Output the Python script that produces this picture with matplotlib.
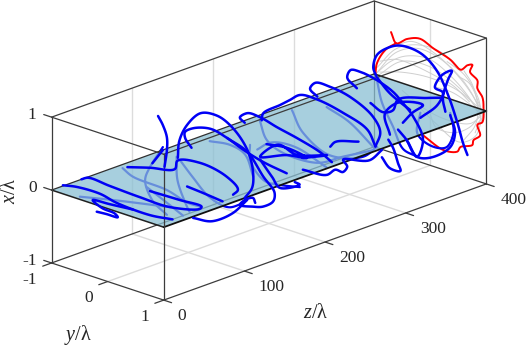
import numpy as np
import matplotlib
matplotlib.use("Agg")
import matplotlib.pyplot as plt
from mpl_toolkits.mplot3d.art3d import Poly3DCollection

plt.rcParams['font.family'] = ['Liberation Serif', 'DejaVu Sans']
plt.rcParams['mathtext.fontset'] = 'custom'
plt.rcParams['mathtext.rm'] = 'Liberation Serif'
plt.rcParams['mathtext.it'] = 'Liberation Serif:italic'

# trajectory pieces above the plane: z, x per piece, y is one value or a list
upper_z = [
    [56, 68, 82, 78, 63, 51, 72, 101],
    [14, 31, 60, 81, 122, 150],
    [37, 45, 72, 109, 147, 184, 186, 159, 122],
    [168, 188, 212],
    [94, 122, 153, 156, 184, 217, 231, 225],
    [132, 138, 143, 143, 140],
    [138, 125],
    [87, 89, 98, 114, 135, 155, 173, 180, 179, 170],
    [104, 96, 96, 106, 127, 148, 168, 193, 222],
    [148, 173, 193, 207, 205, 193, 180, 164, 170, 180, 183],
    [106, 130, 155, 173],
    [170, 164, 173, 189, 210, 235, 263, 278],
    [197, 222, 247, 222, 189, 210, 235, 272, 242],
    [191, 193, 214, 226, 238, 260, 292, 322, 332],
    [260, 251, 257, 276, 301, 329, 338, 332],
    [276, 282, 311],
    [189, 204, 214, 238, 232],
    [242, 272, 282, 292, 297, 292, 325, 340],
    [340, 350, 363, 360, 354, 348],
    [309, 297, 301, 313, 334, 354, 366, 379, 391, 384, 371, 360],
    [382, 378, 383, 399, 392, 391, 388, 388, 385, 385, 387],
    [383, 381, 363, 375],
    [350, 344, 359, 391, 378, 366],
    [305, 321, 333, 339, 375, 391],
    [346, 367, 374, 364, 373, 385, 380, 374, 377],
    [329, 342, 362, 383, 389, 383],
]
upper_x = [
    [-.52, -.60, -.70, -.63, -.50, -.34, -.48, -.67],
    [.01, -.08, -.29, -.50, -.83, -1.0],
    [0, -.01, -.23, -.53, -.82, -.99, -.97, -.77, -.50],
    [-.62, -.79, -1.0],
    [-.06, -.18, -.32, -.22, -.36, -.68, -.92, -.96],
    [.49, .34, .15, -.02, -.24],
    [0, -.13],
    [.35, .58, .75, .85, .74, .49, .12, -.19, -.43, -.53],
    [.42, .59, .67, .68, .59, .38, .14, -.13, -.40],
    [.38, .09, -.33, -.61, -.72, -.74, -.69, -.60, -.56, -.57, -.65],
    [-.55, -.69, -.68, -.57],
    [.50, .60, .62, .50, .28, .03, -.27, -.47],
    [.10, -.05, -.29, -.15, -.04, .04, -.20, -.35, -.27],
    [.45, .54, .57, .59, .61, .46, .15, -.20, -.47],
    [.50, .65, .70, .57, .33, -.05, -.31, -.47],
    [-.25, -.21, -.32],
    [-.08, -.38, -.57, -.62, -.56],
    [-.43, -.62, -.59, -.66, -.61, -.49, -.63, -.55],
    [-.65, -.84, -.93, -.81, -.58, -.44],
    [.42, .62, .70, .63, .43, .19, -.01, -.25, -.62, -.82, -.54, -.35],
    [.11, .26, .41, .45, .58, .55, .41, .12, -.18, -.43, -.59],
    [.09, -.02, .01, -.14],
    [-.38, -.06, .02, -.14, -.19, -.28],
    [.31, .12, .10, .22, .10, .04],
    [.02, .11, .25, .37, .50, .51, .40, .19, -.02],
    [-.22, -.50, -.58, -.53, -.36, -.09],
]
upper_y = [-1, -1, -1, -1, -1, -1, -1, 0, 0, 0, 0, 0, 0, 0, 0, 0, 0, 0, 0, 0,
           [-.7, -.7, -.7, -.7, -.3, 0, .3, .5, .7, .8, .85],
           [-.7, -.5, 0, 0], 0, .3, .6, .6]

# pieces below the plane, seen through it
lower_z = [
    [88, 101, 143, 168, 184],
    [118, 134, 163],
    [155, 156, 168, 171],
    [138, 122, 116, 125, 143],
    [196, 221, 240, 250],
    [159, 175, 196, 186, 202],
    [246, 246, 262, 248, 273],
    [255, 271, 304, 306],
    [258, 267, 292, 294, 292, 329],
    [298, 312, 310, 317, 334],
    [341, 370, 364],
    [397, 375, 354, 346, 349],
    [346, 342, 362, 379, 387, 383],
    [35, 78, 147],
]
lower_x = [
    [-.05, -.22, -.57, -.84, -.96],
    [-.43, -.63, -1.0],
    [-.16, -.48, -.90, -.98],
    [.04, -.17, -.32, -.64, -.91],
    [-.11, -.26, -.47, -.81],
    [-.22, -.52, -.88, -.85, -.86],
    [-.36, -.57, -.90, -.79, -.92],
    [-.46, -.43, -.63, -.78],
    [-.07, -.38, -.68, -.67, -.45, -.51],
    [-.09, -.46, -.63, -.55, -.48],
    [-.22, -.55, -.73],
    [-.08, -.17, -.29, -.49, -.55],
    [.09, -.17, -.44, -.51, -.35, -.06],
    [-.23, -.45, -.82],
]
lower_y = [-1, -1, -1, -1, -1,
           [-1, -1, -1, -.5, -.5],
           [-1, -1, -1, -.5, -.5],
           [-1, -1, -1, -.5],
           [-1, -1, -1, -.5, 0, 0],
           [-1, -1, -.5, 0, 0],
           [-1, -1, -.5],
           [-.9, -.5, 0, .3, .5],
           .6, -1]

# outline on the end wall z = 400
red_y = [-.70, -.61, -.41, -.18, .05, .36, .54, .66, .75, .71, .84, .84, .93, .95, .93, .84,
         .89, .77, .75, .54, .48, .23, -.13]
red_x = [.65, .52, .63, .69, .62, .54, .45, .54, .57, .46, .38, .27, .17, .03, -.17, -.23,
         -.36, -.46, -.53, -.61, -.69, -.73, -.62]
red_left_y = [-.61, -.80, -.95, -.98]
red_left_x = [.52, .38, .16, -.01]

gray_y = [
    [-.98, -.7, -.4, 0, .4, .7, .9],
    [-.98, -.6, -.2, .2, .6, .9],
    [-.9, -.5, 0, .5, .85],
    [-.95, -.5, 0, .5, .9],
    [-.6, -.3, .1, .5, .8, .9],
    [-.3, .1, .5, .8, .93],
    [.95, .7, .4, .1, 0],
    [.3, .6, .85, .9, .8],
    [.6, .75, .85, .8, .6],
    [.1, .4, .7, .85],
    [-.95, -.6, -.2, .2, .5],
    [-.9, -.6, -.3, .1, .4, .7],
    [.5, .7, .85, .93, .85],
    [-.5, -.1, .3, .7, .9],
]
gray_x = [
    [0, .25, .4, .45, .3, .1, -.1],
    [0, .4, .55, .5, .3, 0],
    [.05, .15, .2, .15, .02],
    [-.02, .3, .35, .2, -.05],
    [.5, .62, .55, .35, .1, -.1],
    [-.2, -.4, -.55, -.4, -.1],
    [0, -.3, -.45, -.45, -.3],
    [.5, .4, .15, -.1, -.35],
    [.45, .3, 0, -.25, -.5],
    [.1, .1, .02, -.05],
    [.1, .45, .6, .6, .45],
    [.2, .3, .3, .25, .2, .05],
    [.35, .3, .1, -.1, -.2],
    [-.1, -.25, -.3, -.25, -.1],
]

z_ticks = [0, 100, 200, 300, 400]
y_ticks = [-1, 0, 1]
x_ticks = [-1, 0, 1]

BLUE = '#0000f5'
BOX = '#3c3c3c'
GRID = '#dcdcdc'
TEXT = '#262626'

fig = plt.figure(figsize=(5.27, 3.45), dpi=100)
ax = fig.add_axes([0.8 / 527, 17.3 / 345, 1, 1], projection='3d', computed_zorder=False)
ax.set_proj_type('ortho')
ax.view_init(elev=20.2, azim=-136.2)
ax.set_xlim(0, 400, view_margin=0)
ax.set_ylim(1, -1, view_margin=0)
ax.set_zlim(-1, 1, view_margin=0)
ax.set_box_aspect((3, 1, 1), zoom=1.45)
ax.set_xticks([])
ax.set_yticks([])
ax.set_zticks([])
ax.set_axis_off()


def line(z, y, x, color, lw, zorder):
    z, y, x = np.broadcast_arrays(np.asarray(z, dtype=float), np.asarray(y, dtype=float),
                                  np.asarray(x, dtype=float))
    ax.plot(z, y, x, color=color, lw=lw, zorder=zorder, clip_on=False,
            solid_capstyle='round', solid_joinstyle='round')


def curve(z, y, x, color, lw, zorder):
    # smooth line through the read points (cubic Hermite on a centripetal parameter)
    z, y, x = np.broadcast_arrays(np.asarray(z, dtype=float), np.asarray(y, dtype=float),
                                  np.asarray(x, dtype=float))
    pts = np.column_stack([z, y, x])
    if len(pts) < 3:
        line(z, y, x, color, lw, zorder)
        return
    steps = np.hypot(np.hypot(np.diff(z) * 0.8, np.diff(y) * 56), np.diff(x) * 73)
    t = np.concatenate([[0], np.cumsum(np.sqrt(steps))])
    tan = np.gradient(pts, t, axis=0)
    out = [pts[:1]]
    for i in range(len(pts) - 1):
        h = t[i + 1] - t[i]
        s = np.linspace(0, 1, 13)[1:, None]
        out.append((2 * s**3 - 3 * s**2 + 1) * pts[i] + (s**3 - 2 * s**2 + s) * h * tan[i]
                   + (-2 * s**3 + 3 * s**2) * pts[i + 1] + (s**3 - s**2) * h * tan[i + 1])
    out = np.vstack(out)
    line(out[:, 0], out[:, 1], out[:, 2], color, lw, zorder)


# grid on the walls and the floor
for t in z_ticks[1:-1]:
    line([t, t], -1, [-1, 1], GRID, 1.0, 1)
    line([t, t], [-1, 1], -1, GRID, 1.0, 1)
line([400, 400], 0, [-1, 1], GRID, 1.0, 1)
line([0, 400], 0, -1, GRID, 1.0, 1)

# back edges of the box
line([0, 400], -1, -1, BOX, 0.9, 2)
line([400, 400], [-1, 1], -1, BOX, 0.9, 2)
line([400, 400], -1, [-1, 1], BOX, 0.9, 2)

for gy, gx in zip(gray_y, gray_x):
    curve(400, gy, gx, '#cfcfcf', 0.7, 3)
curve(400, red_y, red_x, '#ff0000', 1.4, 3.5)
curve(400, red_left_y, red_left_x, '#ff0000', 1.4, 3.5)

for z, y, x in zip(lower_z, lower_y, lower_x):
    curve(z, y, x, BLUE, 1.6, 4)

plane = Poly3DCollection([[(0, -1, 0), (400, -1, 0), (400, 1, 0), (0, 1, 0)]],
                         facecolor=(138 / 255, 191 / 255, 211 / 255, 0.75),
                         edgecolor='none', zorder=5, clip_on=False)
ax.add_collection3d(plane)
line([0, 400], -1, 0, '#303030', 0.9, 6)
line([400, 400], [-1, 1], 0, '#202020', 1.1, 6)
line([0, 0], [-1, 1], 0, '#202020', 1.1, 6)
line([0, 400], 1, 0, '#101010', 1.3, 6)

# remaining box edges
line([0, 0], -1, [-1, 1], BOX, 0.9, 6)
line([0, 0], 1, [-1, 1], BOX, 0.9, 6)
line([400, 400], 1, [-1, 1], BOX, 0.9, 6)
line([0, 0], [-1, 1], -1, BOX, 0.9, 6)
line([0, 400], 1, -1, BOX, 0.9, 6)
line([0, 400], -1, 1, BOX, 0.9, 6)
line([0, 400], 1, 1, BOX, 0.9, 6)
line([0, 0], [-1, 1], 1, BOX, 0.9, 6)
line([400, 400], [-1, 1], 1, BOX, 0.9, 6)

for z, y, x in zip(upper_z, upper_y, upper_x):
    curve(z, y, x, BLUE, 1.8, 7)

# ticks and labels
for t in z_ticks:
    line([t, t], [1, 1.14], -1, BOX, 0.9, 6)
    ax.text(t, 1.25, -1.156, str(t), fontsize=12.5, color=TEXT, ha='left', va='center')
for t in y_ticks:
    line([0, -11], t, -1, BOX, 0.9, 6)
    ax.text(-18.6, t, -1.155, str(t), fontsize=12.5, color=TEXT, ha='right', va='center')
for t in x_ticks:
    line(0, [-1, -1.14], t, BOX, 0.9, 6)
    ax.text(-18.6, -1, t + .105, str(t), fontsize=12.5, color=TEXT, ha='right', va='center')

ax.text(147, 1.6, -1.61, r'$\mathit{z}$/λ', fontsize=14.5, color=TEXT, ha='center', va='center')
ax.text(-24, -.19, -1.685, r'$\mathit{y}$/λ', fontsize=14.5, color=TEXT, ha='center', va='center')
# zdir makes Text3D turn the label along the vertical axis
ax.text(-51, -1, .19, r'$\mathit{x}$/λ', zdir='z', fontsize=14.5, color=TEXT, ha='center', va='center')

fig.savefig('out.png', dpi=100)
